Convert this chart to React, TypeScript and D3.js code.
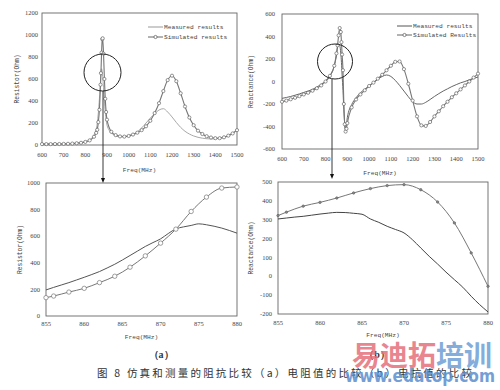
import * as d3 from "d3";
import React from "react";

// full sweep, resistor (MHz / Ohm)
const resFreq = [
  600, 620, 640, 660, 680, 700, 720, 740, 760, 780, 800, 820, 840,
  850, 855, 860, 865, 870, 872, 875, 878, 880, 884, 888, 892, 896,
  900, 920, 940, 960, 980, 1000, 1020, 1040, 1060, 1080, 1100, 1120, 1140, 1160,
  1180, 1200, 1220, 1240, 1260, 1280, 1300, 1320, 1340, 1360, 1380, 1400, 1420,
  1440, 1460, 1480, 1500,
];
const resSimulated = [
  8, 8, 8, 9, 9, 10, 11, 13, 16, 20, 28, 42, 75,
  110, 138, 208, 320, 548, 653, 840, 962, 970, 830, 600, 420, 300,
  230, 120, 90, 78, 76, 82, 95, 112, 135, 170, 220, 290, 380, 490,
  590, 630, 580, 470, 350, 250, 180, 130, 100, 80, 68, 62, 62,
  70, 85, 105, 135,
];
const resMeasured = [
  10, 9, 9, 10, 10, 11, 12, 14, 18, 23, 32, 48, 90,
  140, 196, 291, 420, 580, 655, 693, 661, 623, 520, 400, 300, 230,
  180, 110, 85, 78, 78, 85, 98, 120, 155, 200, 245, 285, 318, 330,
  300, 255, 205, 160, 125, 100, 82, 70, 62, 57, 55, 56, 60,
  70, 88, 110, 140,
];

// full sweep, reactance
const reaFreq = [
  600, 620, 640, 660, 680, 700, 720, 740, 760, 780, 800, 820, 840,
  850, 855, 860, 865, 870, 873, 876, 880, 884, 888, 892, 896,
  900, 920, 940, 960, 980, 1000, 1020, 1040, 1060, 1080, 1100, 1120, 1140, 1160,
  1180, 1200, 1220, 1240, 1260, 1280, 1300, 1320, 1340, 1360, 1380, 1400, 1420,
  1440, 1460, 1480, 1500,
];
const reaSimulated = [
  -180, -170, -158, -145, -130, -115, -100, -82, -60, -35, 0, 50, 140,
  250, 322, 410, 475, 440, 350, 240, 100, -200, -380, -445, -420,
  -370, -230, -160, -115, -78, -40, -10, 25, 60, 100, 140, 175, 178, 110,
  -20, -170, -310, -390, -395, -360, -310, -265, -220, -180, -140, -105, -70,
  -35, 0, 35, 70,
];
const reaMeasured = [
  -150, -142, -133, -122, -110, -97, -85, -70, -50, -25, 5, 50, 140,
  230, 300, 330, 320, 250, 170, 60, -80, -250, -380, -420, -380,
  -320, -205, -145, -100, -70, -40, -10, 20, 45, 58, 45, 10, -35, -85,
  -135, -180, -200, -200, -185, -160, -133, -108, -85, -65, -45, -28, -12,
  0, 15, 28, 40,
];

// zoom 855-880 MHz
const zoomFreq = [
  855, 856, 857, 858, 859, 860, 861, 862, 863, 864, 865, 866, 867,
  868, 869, 870, 871, 872, 873, 874, 875, 876, 877, 878, 879, 880,
];
const zoomResMeasured = [
  196, 215, 233, 251, 271, 291, 312, 334, 361, 389, 421, 455, 489,
  523, 552, 580, 620, 655, 670, 681, 693, 686, 675, 661, 643, 623,
];
const zoomResSimFreq = [855, 856, 858, 860, 862, 864, 866, 868, 870, 872, 874, 876, 878, 880];
const zoomResSimulated = [138, 150, 180, 208, 251, 299, 367, 452, 548, 653, 786, 894, 962, 970];

const zoomReaMeasured = [
  304, 309, 314, 318, 324, 330, 335, 339, 338, 334, 329, 304, 286,
  265, 248, 230, 194, 150, 106, 65, 22, -18, -58, -106, -150, -189,
];
const zoomReaSimFreq = [855, 856, 858, 860, 862, 864, 866, 868, 870, 872, 874, 876, 878, 880];
const zoomReaSimulated = [322, 340, 372, 392, 415, 442, 465, 481, 486, 459, 394, 283, 124, -53];

const fullTicks = [600, 700, 800, 900, 1000, 1100, 1200, 1300, 1400, 1500];
const zoomTicks = [855, 860, 865, 870, 875, 880];
const resTicks = [0, 200, 400, 600, 800, 1000, 1200];
const reaTicks = [-600, -400, -200, 0, 200, 400, 600];
const zoomResTicks = [0, 200, 400, 600, 800, 1000];
const zoomReaTicks = [-200, -100, 0, 100, 200, 300, 400, 500];

const mono = "Liberation Mono, DejaVu Sans Mono, monospace";
const serif = "Liberation Serif, DejaVu Serif, serif";

function Panel({ box, xDomain, yDomain, xTicks, yTicks, yLabel, yLabelX, yTickX, xTickY, xLabelY, series, legend }: any) {
  const x = d3.scaleLinear().domain(xDomain).range([box.left, box.right]);
  const y = d3.scaleLinear().domain(yDomain).range([box.bottom, box.top]);
  const cy = (box.top + box.bottom) / 2;
  const cx = (box.left + box.right) / 2;

  return (
    <g>
      <rect x={box.left} y={box.top} width={box.right - box.left} height={box.bottom - box.top}
        fill="white" stroke="#666" strokeWidth={0.9} />
      {yTicks.map((t: number) => (
        <text key={"y" + t} x={yTickX} y={y(t) + 2.2} textAnchor="end" fontFamily={serif}
          fontSize={6.5} fill="#444">{t}</text>
      ))}
      {xTicks.map((t: number) => (
        <text key={"x" + t} x={x(t)} y={xTickY} textAnchor="middle" fontFamily={serif}
          fontSize={6.5} fill="#444">{t}</text>
      ))}
      <text x={cx} y={xLabelY} textAnchor="middle" fontFamily={mono} fontSize={6.2} fill="#444">Freq(MHz)</text>
      <text transform={`translate(${yLabelX},${cy}) rotate(-90)`} textAnchor="middle" fontFamily={mono}
        fontSize={6.3} fill="#444">{yLabel}</text>
      {series.map((s: any, i: number) => {
        const pts = s.freq.map((f: number, j: number) => [f, s.values[j]]);
        const line = d3.line<any>().x((d) => x(d[0])).y((d) => y(d[1])).curve(d3.curveMonotoneX);
        return (
          <g key={i}>
            <path d={line(pts) || ""} fill="none" stroke={s.color} strokeWidth={s.width} />
            {s.marker &&
              pts.map((d: any, j: number) => (
                <circle key={j} cx={x(d[0])} cy={y(d[1])} r={s.marker.r} fill={s.marker.fill}
                  stroke={s.marker.stroke} strokeWidth={0.7} />
              ))}
          </g>
        );
      })}
      {legend && (
        <g fontFamily={mono} fontSize={6.2} fill="#444">
          <line x1={legend.x} x2={legend.x + 15} y1={legend.y} y2={legend.y} stroke={legend.c0} strokeWidth={1} />
          <text x={legend.x + 16} y={legend.y + 2}>Measured results</text>
          <line x1={legend.x} x2={legend.x + 15} y1={legend.y + legend.dy} y2={legend.y + legend.dy}
            stroke={legend.c1} strokeWidth={1} />
          <circle cx={legend.x + 7.5} cy={legend.y + legend.dy} r={1.6} fill="white" stroke="#555" strokeWidth={0.7} />
          <text x={legend.x + 16} y={legend.y + legend.dy + 2}>{legend.simText}</text>
        </g>
      )}
    </g>
  );
}

function Arrow({ x, y0, y1 }: any) {
  return (
    <g>
      <line x1={x} x2={x} y1={y0} y2={y1 - 4} stroke="#222" strokeWidth={0.9} />
      <path d={`M${x - 2},${y1 - 5} L${x + 2},${y1 - 5} L${x},${y1} Z`} fill="#111" />
    </g>
  );
}

export default function App() {
  const simMarker = { r: 1.6, fill: "white", stroke: "#666" };
  return (
    <div style={{ position: "absolute", left: 0, top: 0 }}>
      <svg width={500} height={390} style={{ display: "block", background: "white" }}>
        <Panel
          box={{ left: 42, right: 237, top: 13, bottom: 145 }}
          xDomain={[600, 1500]} yDomain={[0, 1200]}
          xTicks={fullTicks} yTicks={resTicks}
          yLabel="Resistor(Ohm)" yLabelX={19} yTickX={38} xTickY={157} xLabelY={172}
          series={[
            { freq: resFreq, values: resMeasured, color: "#a8a8a8", width: 1 },
            { freq: resFreq, values: resSimulated, color: "#777", width: 1.1, marker: simMarker },
          ]}
          legend={{ x: 148, y: 27, dy: 10, c0: "#999", c1: "#666", simText: "Simulated results" }}
        />
        <Panel
          box={{ left: 282, right: 478, top: 14, bottom: 149 }}
          xDomain={[600, 1500]} yDomain={[-600, 600]}
          xTicks={fullTicks} yTicks={reaTicks}
          yLabel="Reactance(Ohm)" yLabelX={253} yTickX={275} xTickY={161} xLabelY={175}
          series={[
            { freq: reaFreq, values: reaMeasured, color: "#666", width: 1 },
            { freq: reaFreq, values: reaSimulated, color: "#777", width: 1.1, marker: simMarker },
          ]}
          legend={{ x: 397, y: 26, dy: 9, c0: "#555", c1: "#666", simText: "Simulated Results" }}
        />
        <Panel
          box={{ left: 46, right: 237, top: 183, bottom: 316 }}
          xDomain={[855, 880]} yDomain={[0, 1000]}
          xTicks={zoomTicks} yTicks={zoomResTicks}
          yLabel="Resistor(Ohm)" yLabelX={22} yTickX={40} xTickY={326} xLabelY={339}
          series={[
            { freq: zoomFreq, values: zoomResMeasured, color: "#555", width: 1 },
            { freq: zoomResSimFreq, values: zoomResSimulated, color: "#777", width: 1,
              marker: { r: 2.2, fill: "white", stroke: "#777" } },
          ]}
        />
        <Panel
          box={{ left: 278, right: 488, top: 182, bottom: 314 }}
          xDomain={[855, 880]} yDomain={[-200, 500]}
          xTicks={zoomTicks} yTicks={zoomReaTicks}
          yLabel="Reactance(Ohm)" yLabelX={253} yTickX={272} xTickY={325} xLabelY={337}
          series={[
            { freq: zoomFreq, values: zoomReaMeasured, color: "#444", width: 1 },
            { freq: zoomReaSimFreq, values: zoomReaSimulated, color: "#777", width: 1,
              marker: { r: 1.2, fill: "#888", stroke: "#666" } },
          ]}
        />

        {/* zoom markers */}
        <circle cx={102.5} cy={72.5} r={18.5} fill="none" stroke="#222" strokeWidth={1} />
        <Arrow x={103} y0={91} y1={183} />
        <circle cx={335} cy={61.5} r={17.5} fill="none" stroke="#222" strokeWidth={1} />
        <Arrow x={332} y0={79} y1={179} />

        {/* captions */}
        <text x={161} y={358} textAnchor="middle" fontFamily={serif} fontSize={10} fontWeight="bold" fill="#333">（a）</text>
        <text x={377} y={358} textAnchor="middle" fontFamily={serif} fontSize={10} fontWeight="bold" fill="#333">（b）</text>
        <text x={97} y={377} fontFamily="Noto Sans CJK SC" fontSize={10.5} fill="#333" textLength={375}
          lengthAdjust="spacing">图 8 仿真和测量的阻抗比较（a）电阻值的比较（b）电抗值的比较</text>

        {/* watermark */}
        <g opacity={0.85} fontFamily="Noto Sans CJK SC" fontWeight="bold">
          <text x={352} y={366} fontSize={28} fill="#e5707c">易迪拓</text>
          <text x={436} y={366} fontSize={28} fill="#6f9fd6">培训</text>
          <text x={345} y={382} fontSize={17} fontFamily="DejaVu Sans" fill="#5b8fd0" textLength={150}
            lengthAdjust="spacingAndGlyphs">www.edatop.com</text>
        </g>
      </svg>
    </div>
  );
}
